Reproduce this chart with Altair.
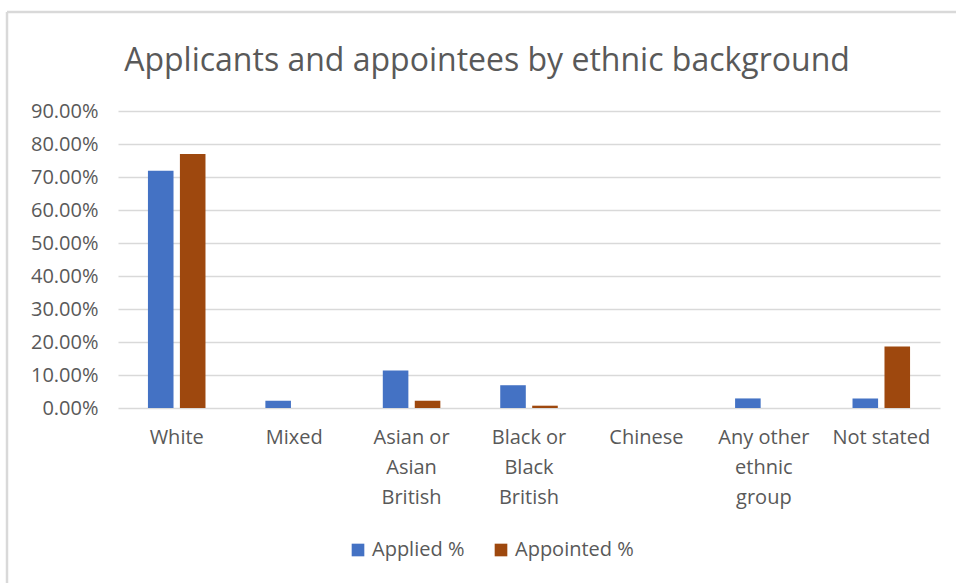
import altair as alt
import pandas as pd

categories = ["White", "Mixed", "Asian or Asian British", "Black or Black British",
              "Chinese", "Any other ethnic group", "Not stated"]
label_lines = [["White"], ["Mixed"], ["Asian or", "Asian", "British"],
               ["Black or", "Black", "British"], ["Chinese"],
               ["Any other", "ethnic", "group"], ["Not stated"]]
series = ["Applied %", "Appointed %"]
applied = [0.719, 0.022, 0.114, 0.069, 0.0, 0.029, 0.029]
appointed = [0.770, 0.0, 0.022, 0.007, 0.0, 0.0, 0.186]
colors = ["#4472C4", "#9E480E"]

rows = []
for c, a, p in zip(categories, applied, appointed):
    rows.append({"Category": c, "Series": series[0], "Value": a})
    rows.append({"Category": c, "Series": series[1], "Value": p})
df = pd.DataFrame(rows)

label_map = {c: l for c, l in zip(categories, label_lines)}
label_expr = "{" + ",".join(
    "'%s': [%s]" % (c, ",".join("'%s'" % s for s in l)) for c, l in label_map.items()
) + "}[datum.label]"

FONT = "Open Sans"
GREY = "#595959"

bars = alt.Chart(df).mark_bar().encode(
    x=alt.X("Category:N", sort=categories, title=None,
            scale=alt.Scale(paddingInner=0.51, paddingOuter=0.255),
            axis=alt.Axis(labelAngle=0, domain=False, ticks=False, grid=False,
                          labelExpr=label_expr,
                          labelFont=FONT, labelFontSize=20, labelColor=GREY,
                          labelLineHeight=30, labelPadding=19, labelBaseline="top")),
    xOffset=alt.XOffset("Series:N", sort=series,
                        scale=alt.Scale(paddingInner=0.2, paddingOuter=0)),
    y=alt.Y("Value:Q", title=None,
            scale=alt.Scale(domain=[0, 0.9]),
            axis=alt.Axis(format=".2%", values=[i / 10 for i in range(10)],
                          domain=False, ticks=False, labelPadding=20,
                          labelFont=FONT, labelFontSize=20, labelColor=GREY,
                          gridColor="#D9D9D9", gridWidth=1.5)),
    color=alt.Color("Series:N", sort=series,
                    scale=alt.Scale(domain=series, range=colors),
                    legend=alt.Legend(title=None, orient="none", direction="horizontal",
                                      legendX=230, legendY=429,
                                      symbolType="square", symbolSize=160,
                                      symbolStrokeWidth=0,
                                      labelFont=FONT, labelFontSize=20, labelColor=GREY,
                                      columnPadding=26, symbolOffset=0)),
)

border = alt.Chart(pd.DataFrame({"k": [0]})).mark_rule(color="#D9D9D9", strokeWidth=2.5).encode(
    x=alt.value(-111), y=alt.value(-99), y2=alt.value(480)
)
border_top = alt.Chart(pd.DataFrame({"k": [0]})).mark_rule(color="#D9D9D9", strokeWidth=2.5).encode(
    x=alt.value(-111), x2=alt.value(840), y=alt.value(-99)
)

chart = alt.layer(bars, border, border_top).properties(
    width=822, height=297,
    background="white",
    title=alt.TitleParams("Applicants and appointees by ethnic background",
                          font=FONT, fontSize=32, fontWeight="normal", color=GREY,
                          anchor="middle", dx=-42, offset=-67),
    autosize=alt.AutoSizeParams(type="none"),
    padding={"left": 118, "top": 111, "right": 16, "bottom": 175},
).configure_view(stroke="transparent", strokeWidth=0)

chart.save("out.html", embed_options={"renderer": "svg", "actions": False})
